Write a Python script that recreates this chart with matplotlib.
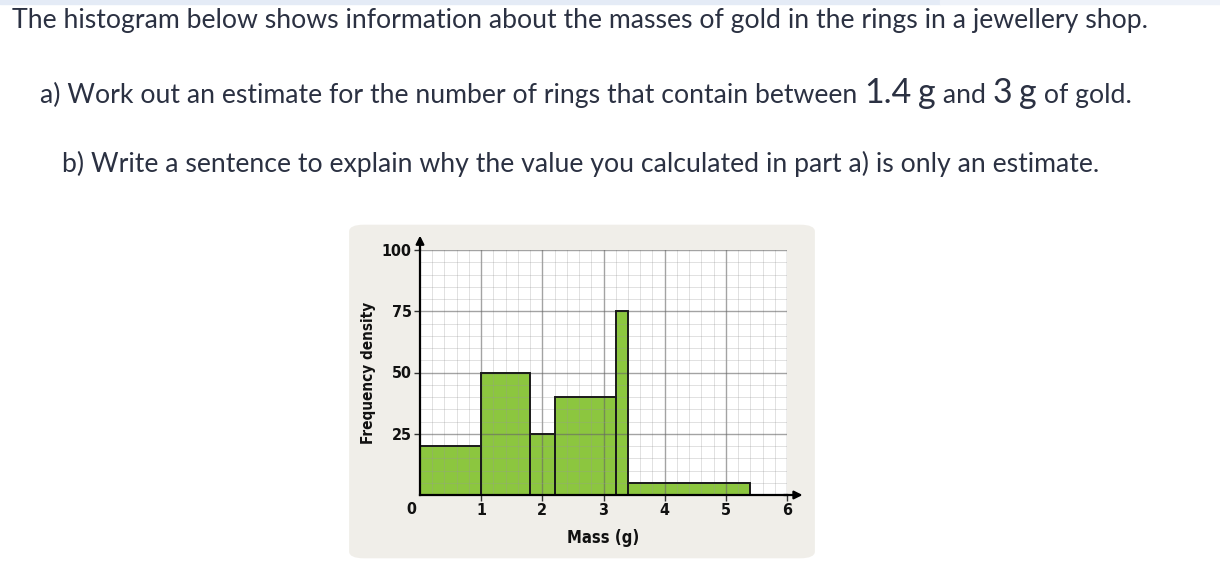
import matplotlib.pyplot as plt
from matplotlib.patches import FancyBboxPatch, Rectangle
from matplotlib.ticker import MultipleLocator

# histogram data: class boundaries (g) and frequency density
edges = [0, 1, 1.8, 2.2, 3.2, 3.4, 5.4]
density = [20, 50, 25, 40, 75, 5]
xticks = [1, 2, 3, 4, 5, 6]
yticks = [25, 50, 75, 100]

title = "The histogram below shows information about the masses of gold in the rings in a jewellery shop."
part_a = [("a) Work out an estimate for the number of rings that contain between ", False),
          ("1.4", True), (" ", False), ("g", True), (" and ", False), ("3", True),
          (" ", False), ("g", True), (" of gold.", False)]
part_b = "b) Write a sentence to explain why the value you calculated in part a) is only an estimate."

W, H = 1220, 576
fig = plt.figure(figsize=(W / 100, H / 100), dpi=100)
fig.patch.set_facecolor("white")

def fx(px):
    return px / W

def fy(py):
    return 1 - py / H

txt_col = "#2b3142"
font = "Lato"
fs = 19.2

# light strip along the top edge
fig.patches.append(Rectangle((0, fy(4)), fx(940), 4 / H, transform=fig.transFigure,
                             color="#e4ebf6", zorder=-2))
fig.patches.append(Rectangle((fx(940), fy(4)), 1 - fx(940), 4 / H, transform=fig.transFigure,
                             color="#eef2f9", zorder=-2))

fig.text(fx(12), fy(28), title, fontsize=fs, family=font, color=txt_col, va="baseline")

# line a) with bigger numbers
renderer = fig.canvas.get_renderer()
x = fx(40)
for s, big in part_a:
    t = fig.text(x, fy(103), s, fontsize=24.5 if big else fs, family=font,
                 color=txt_col, va="baseline")
    bb = t.get_window_extent(renderer=renderer)
    x += bb.width / W

fig.text(fx(62), fy(172), part_b, fontsize=fs, family=font, color=txt_col, va="baseline")

# panel behind chart
panel = FancyBboxPatch((fx(354), fy(556)), fx(456), (556 - 227) / H,
                       boxstyle="round,pad=0.004,rounding_size=0.012",
                       transform=fig.transFigure, facecolor="#f0eee9", edgecolor="none", zorder=-1)
fig.patches.append(panel)

ax = fig.add_axes([fx(420), fy(495), fx(787 - 420), (495 - 250) / H])
ax.set_zorder(2)
ax.set_facecolor("white")

widths = [edges[i + 1] - edges[i] for i in range(len(density))]
ax.bar(edges[:-1], density, width=widths, align="edge", color="#8cc63f",
       edgecolor="none", zorder=1)
ax.bar(edges[:-1], density, width=widths, align="edge", fill=False,
       edgecolor="#1a1a1a", linewidth=1.4, zorder=4)

ax.set_xlim(0, 6)
ax.set_ylim(0, 100)
ax.set_xticks(xticks)
ax.set_yticks(yticks)
ax.xaxis.set_minor_locator(MultipleLocator(0.2))
ax.yaxis.set_minor_locator(MultipleLocator(5))
ax.set_axisbelow(False)
ax.grid(which="major", color="#666666", alpha=0.6, linewidth=1.0)
ax.grid(which="minor", color="#999999", alpha=0.3, linewidth=0.7)
ax.tick_params(which="minor", length=0)
ax.tick_params(which="major", length=4, width=1, color="#333333", pad=2)

lab_font = "DejaVu Sans"
lab_kw = dict(family=lab_font, fontweight="bold", fontstretch="condensed", color="#111111")
for lab in ax.get_xticklabels() + ax.get_yticklabels():
    lab.set_family(lab_font)
    lab.set_fontweight("bold")
    lab.set_fontstretch("condensed")
    lab.set_fontsize(11.5)
    lab.set_color("#111111")

for side in ["top", "right"]:
    ax.spines[side].set_visible(False)
for side in ["left", "bottom"]:
    ax.spines[side].set_linewidth(1.6)
    ax.spines[side].set_zorder(5)

# axis arrows
ax.annotate("", xy=(0, 107), xytext=(0, 99), xycoords="data",
            arrowprops=dict(arrowstyle="-|>", color="black", lw=1.6, mutation_scale=12),
            annotation_clip=False)
ax.annotate("", xy=(6.3, 0), xytext=(5.9, 0), xycoords="data",
            arrowprops=dict(arrowstyle="-|>", color="black", lw=1.6, mutation_scale=12),
            annotation_clip=False)

ax.text(-0.14, -3, "0", fontsize=11.5, ha="center", va="top", **lab_kw)

ax.set_xlabel("Mass (g)", fontsize=12, labelpad=8, **lab_kw)
ax.set_ylabel("Frequency density", fontsize=11, labelpad=4, **lab_kw)

fig.savefig("out.png", dpi=100)
